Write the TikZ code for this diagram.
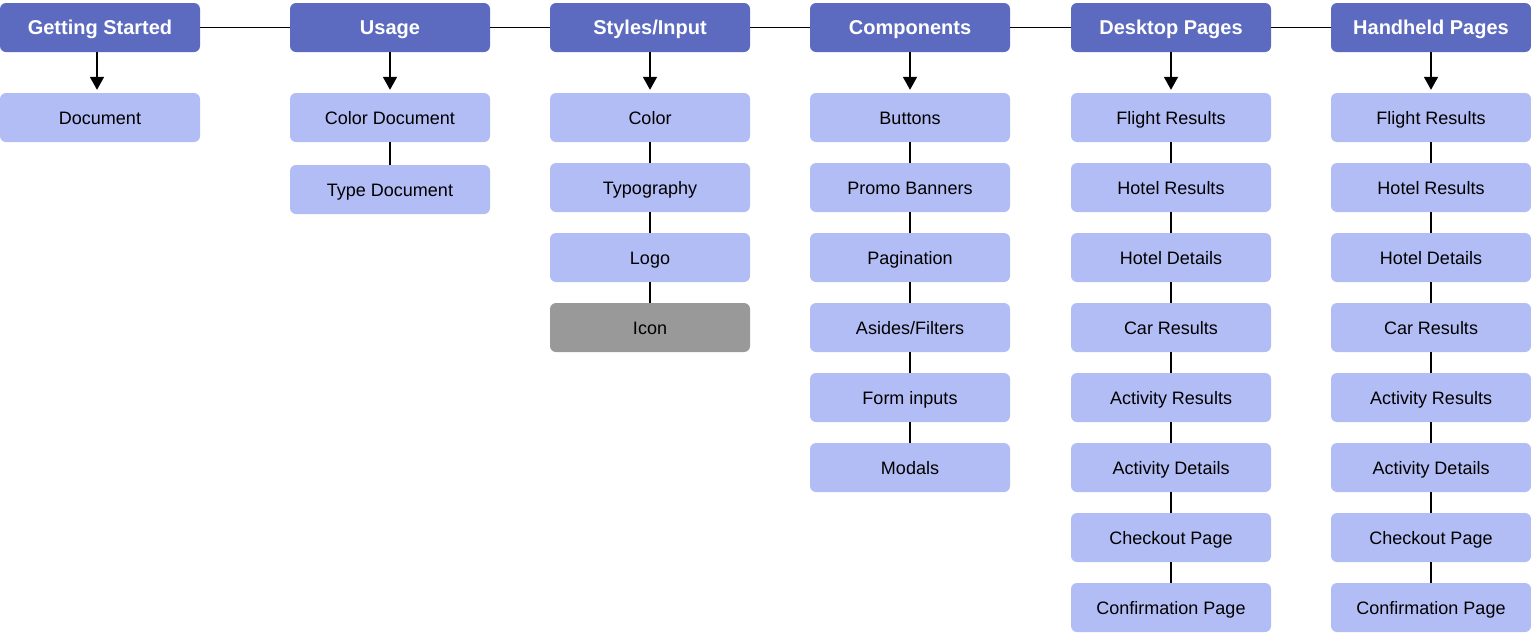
\documentclass[tikz,border=0pt]{standalone}
\usepackage{fontspec}
\setmainfont{Liberation Sans}
\usetikzlibrary{arrows.meta}
\definecolor{hdr}{RGB}{92,107,192}
\definecolor{kid}{RGB}{179,189,245}
\definecolor{gry}{RGB}{153,153,153}
\tikzset{
  head/.style={rectangle, rounded corners=6pt, fill=hdr, text=white, minimum width=200pt, minimum height=49pt, inner sep=0pt, text height=14.4pt, text depth=0pt, font=\bfseries\fontsize{20}{24}\selectfont},
  kidbox/.style={rectangle, rounded corners=6pt, fill=kid, text=black, minimum width=200pt, minimum height=49pt, inner sep=0pt, text height=13pt, text depth=0pt, font=\fontsize{18}{22}\selectfont},
  greybox/.style={kidbox, fill=gry},
  link/.style={draw=black, line width=1.8pt},
  downarrow/.style={draw=black, line width=1.8pt, -{Triangle[width=14pt,length=13pt]}, shorten >=3pt}
}
\begin{document}
\begin{tikzpicture}[x=1pt,y=-1pt]
\useasboundingbox (0,0) rectangle (1531,633);
% headers
\node[head] (h1) at (100,27.5) {Getting Started};
\node[head] (h2) at (390,27.5) {Usage};
\node[head] (h3) at (650,27.5) {Styles/Input};
\node[head] (h4) at (910,27.5) {Components};
\node[head] (h5) at (1171,27.5) {Desktop Pages};
\node[head] (h6) at (1431,27.5) {Handheld Pages};
\draw[link] (h1) -- (h2);
\draw[link] (h2) -- (h3);
\draw[link] (h3) -- (h4);
\draw[link] (h4) -- (h5);
\draw[link] (h5) -- (h6);
% column 1
\node[kidbox] (a1) at (100,117.5) {Document};
\draw[downarrow] (h1.south -| 97,0) -- (a1.north -| 97,0);
% column 2
\node[kidbox] (b1) at (390,117.5) {Color Document};
\node[kidbox] (b2) at (390,189.5) {Type Document};
\draw[downarrow] (h2) -- (b1);
\draw[link] (b1) -- (b2);
% column 3
\node[kidbox] (c1) at (650,117.5) {Color};
\node[kidbox] (c2) at (650,187.5) {Typography};
\node[kidbox] (c3) at (650,257.5) {Logo};
\node[greybox] (c4) at (650,327.5) {Icon};
\draw[downarrow] (h3) -- (c1);
\draw[link] (c1) -- (c2);
\draw[link] (c2) -- (c3);
\draw[link] (c3) -- (c4);
% column 4
\node[kidbox] (d1) at (910,117.5) {Buttons};
\node[kidbox] (d2) at (910,187.5) {Promo Banners};
\node[kidbox] (d3) at (910,257.5) {Pagination};
\node[kidbox] (d4) at (910,327.5) {Asides/Filters};
\node[kidbox] (d5) at (910,397.5) {Form inputs};
\node[kidbox] (d6) at (910,467.5) {Modals};
\draw[downarrow] (h4) -- (d1);
\draw[link] (d1) -- (d2);
\draw[link] (d2) -- (d3);
\draw[link] (d3) -- (d4);
\draw[link] (d4) -- (d5);
\draw[link] (d5) -- (d6);
% columns 5 and 6
\foreach \col/\xx in {e/1171,f/1431}{
  \foreach \i/\txt in {1/Flight Results,2/Hotel Results,3/Hotel Details,4/Car Results,5/Activity Results,6/Activity Details,7/Checkout Page,8/Confirmation Page}{
    \node[kidbox] (\col\i) at (\xx,{117.5+70*(\i-1)}) {\txt};
  }
  \foreach \i [evaluate=\i as \j using int(\i+1)] in {1,...,7}{
    \draw[link] (\col\i) -- (\col\j);
  }
}
\draw[downarrow] (h5) -- (e1);
\draw[downarrow] (h6) -- (f1);
\end{tikzpicture}
\end{document}
